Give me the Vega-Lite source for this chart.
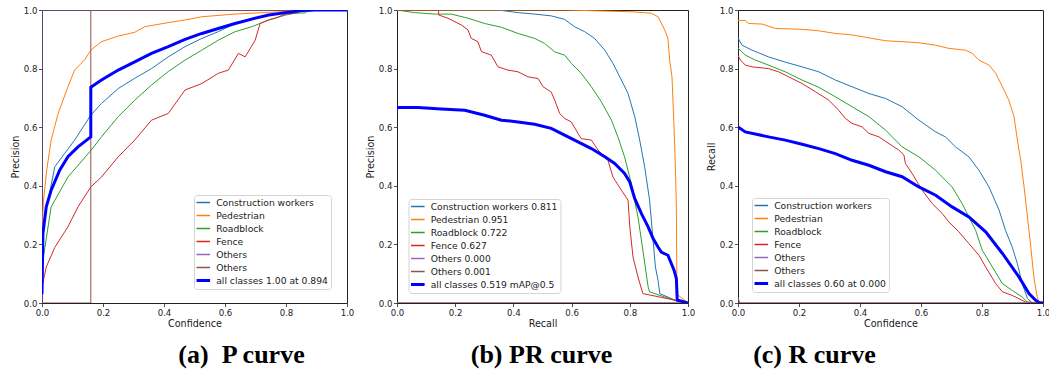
{
  "$schema": "https://vega.github.io/schema/vega-lite/v6.json",
  "padding": {"left": 9, "top": 5, "right": 0, "bottom": 0},
  "background": "white",
  "spacing": 50,
  "bounds": "flush",
  "config": {
    "font": "DejaVu Sans",
    "view": {"stroke": "#222", "strokeWidth": 1},
    "axis": {
      "domain": false, "grid": false, "ticks": true, "tickColor": "#222", "tickSize": 3.5, "tickWidth": 0.8,
      "labelFont": "DejaVu Sans", "labelFontSize": 8.6, "labelColor": "#222", "labelPadding": 1.5,
      "labelFlush": false, "labelOverlap": false,
      "titleFont": "DejaVu Sans", "titleFontSize": 9.6, "titleFontWeight": "normal", "titleColor": "#222"
    },
    "axisX": {"titlePadding": 2},
    "axisY": {"titlePadding": 3},
    "legend": {
      "orient": "none", "title": null, "symbolType": "stroke", "symbolSize": 324, "symbolStrokeWidth": 1.5,
      "labelFont": "DejaVu Sans", "labelFontSize": 9.2, "labelColor": "#222", "labelOffset": 10.5,
      "strokeColor": "#d4d4d4", "fillColor": "white", "cornerRadius": 3, "padding": 2.5,
      "rowPadding": 2, "clipHeight": 10, "labelLimit": 300
    },
    "title": {"font": "Liberation Serif", "fontSize": 26, "fontWeight": "bold", "color": "#000", "orient": "bottom", "anchor": "middle", "baseline": "alphabetic", "offset": 14}
  },
  "datasets": {
    "p": [
      {"c": "Construction workers", "x": 0, "y": 0.2}, {"c": "Construction workers", "x": 0.005, "y": 0.28}, {"c": "Construction workers", "x": 0.02, "y": 0.35}, {"c": "Construction workers", "x": 0.042, "y": 0.465}, {"c": "Construction workers", "x": 0.074, "y": 0.51}, {"c": "Construction workers", "x": 0.107, "y": 0.556}, {"c": "Construction workers", "x": 0.16, "y": 0.641}, {"c": "Construction workers", "x": 0.195, "y": 0.681}, {"c": "Construction workers", "x": 0.25, "y": 0.732}, {"c": "Construction workers", "x": 0.304, "y": 0.767}, {"c": "Construction workers", "x": 0.359, "y": 0.8}, {"c": "Construction workers", "x": 0.414, "y": 0.84}, {"c": "Construction workers", "x": 0.469, "y": 0.875}, {"c": "Construction workers", "x": 0.524, "y": 0.903}, {"c": "Construction workers", "x": 0.578, "y": 0.926}, {"c": "Construction workers", "x": 0.633, "y": 0.954}, {"c": "Construction workers", "x": 0.688, "y": 0.972}, {"c": "Construction workers", "x": 0.743, "y": 0.983}, {"c": "Construction workers", "x": 0.8, "y": 0.991}, {"c": "Construction workers", "x": 0.852, "y": 0.997}, {"c": "Construction workers", "x": 0.88, "y": 1}, {"c": "Construction workers", "x": 1, "y": 1},
      {"c": "Pedestrian", "x": 0, "y": 0.25}, {"c": "Pedestrian", "x": 0.005, "y": 0.35}, {"c": "Pedestrian", "x": 0.015, "y": 0.45}, {"c": "Pedestrian", "x": 0.03, "y": 0.556}, {"c": "Pedestrian", "x": 0.053, "y": 0.647}, {"c": "Pedestrian", "x": 0.085, "y": 0.738}, {"c": "Pedestrian", "x": 0.107, "y": 0.795}, {"c": "Pedestrian", "x": 0.14, "y": 0.83}, {"c": "Pedestrian", "x": 0.16, "y": 0.863}, {"c": "Pedestrian", "x": 0.195, "y": 0.892}, {"c": "Pedestrian", "x": 0.25, "y": 0.911}, {"c": "Pedestrian", "x": 0.304, "y": 0.924}, {"c": "Pedestrian", "x": 0.337, "y": 0.943}, {"c": "Pedestrian", "x": 0.414, "y": 0.957}, {"c": "Pedestrian", "x": 0.469, "y": 0.966}, {"c": "Pedestrian", "x": 0.524, "y": 0.977}, {"c": "Pedestrian", "x": 0.633, "y": 0.986}, {"c": "Pedestrian", "x": 0.743, "y": 0.992}, {"c": "Pedestrian", "x": 0.852, "y": 0.998}, {"c": "Pedestrian", "x": 0.9, "y": 1}, {"c": "Pedestrian", "x": 1, "y": 1},
      {"c": "Roadblock", "x": 0, "y": 0.1}, {"c": "Roadblock", "x": 0.003, "y": 0.146}, {"c": "Roadblock", "x": 0.03, "y": 0.328}, {"c": "Roadblock", "x": 0.085, "y": 0.43}, {"c": "Roadblock", "x": 0.16, "y": 0.52}, {"c": "Roadblock", "x": 0.195, "y": 0.567}, {"c": "Roadblock", "x": 0.25, "y": 0.636}, {"c": "Roadblock", "x": 0.304, "y": 0.692}, {"c": "Roadblock", "x": 0.359, "y": 0.744}, {"c": "Roadblock", "x": 0.414, "y": 0.79}, {"c": "Roadblock", "x": 0.469, "y": 0.829}, {"c": "Roadblock", "x": 0.524, "y": 0.863}, {"c": "Roadblock", "x": 0.578, "y": 0.897}, {"c": "Roadblock", "x": 0.633, "y": 0.926}, {"c": "Roadblock", "x": 0.688, "y": 0.943}, {"c": "Roadblock", "x": 0.743, "y": 0.966}, {"c": "Roadblock", "x": 0.8, "y": 0.983}, {"c": "Roadblock", "x": 0.83, "y": 0.989}, {"c": "Roadblock", "x": 0.863, "y": 0.99}, {"c": "Roadblock", "x": 0.87, "y": 0.995}, {"c": "Roadblock", "x": 0.9, "y": 1}, {"c": "Roadblock", "x": 1, "y": 1},
      {"c": "Fence", "x": 0, "y": 0.055}, {"c": "Fence", "x": 0.014, "y": 0.123}, {"c": "Fence", "x": 0.042, "y": 0.19}, {"c": "Fence", "x": 0.085, "y": 0.26}, {"c": "Fence", "x": 0.118, "y": 0.328}, {"c": "Fence", "x": 0.16, "y": 0.396}, {"c": "Fence", "x": 0.195, "y": 0.43}, {"c": "Fence", "x": 0.25, "y": 0.499}, {"c": "Fence", "x": 0.304, "y": 0.556}, {"c": "Fence", "x": 0.359, "y": 0.624}, {"c": "Fence", "x": 0.414, "y": 0.647}, {"c": "Fence", "x": 0.469, "y": 0.727}, {"c": "Fence", "x": 0.524, "y": 0.749}, {"c": "Fence", "x": 0.578, "y": 0.784}, {"c": "Fence", "x": 0.611, "y": 0.795}, {"c": "Fence", "x": 0.644, "y": 0.852}, {"c": "Fence", "x": 0.666, "y": 0.84}, {"c": "Fence", "x": 0.699, "y": 0.897}, {"c": "Fence", "x": 0.715, "y": 0.954}, {"c": "Fence", "x": 0.743, "y": 0.966}, {"c": "Fence", "x": 0.765, "y": 0.972}, {"c": "Fence", "x": 0.797, "y": 0.986}, {"c": "Fence", "x": 0.83, "y": 0.989}, {"c": "Fence", "x": 0.852, "y": 0.997}, {"c": "Fence", "x": 0.9, "y": 1}, {"c": "Fence", "x": 1, "y": 1},
      {"c": "Others", "x": 0, "y": 0}, {"c": "Others", "x": 0, "y": 1}, {"c": "Others", "x": 1, "y": 1},
      {"c": "Others #2", "x": 0, "y": 0}, {"c": "Others #2", "x": 0.16, "y": 0}, {"c": "Others #2", "x": 0.16, "y": 1}, {"c": "Others #2", "x": 1, "y": 1},
      {"c": "all classes 1.00 at 0.894", "x": 0, "y": 0.03}, {"c": "all classes 1.00 at 0.894", "x": 0.003, "y": 0.237}, {"c": "all classes 1.00 at 0.894", "x": 0.014, "y": 0.328}, {"c": "all classes 1.00 at 0.894", "x": 0.03, "y": 0.385}, {"c": "all classes 1.00 at 0.894", "x": 0.058, "y": 0.453}, {"c": "all classes 1.00 at 0.894", "x": 0.085, "y": 0.499}, {"c": "all classes 1.00 at 0.894", "x": 0.118, "y": 0.533}, {"c": "all classes 1.00 at 0.894", "x": 0.16, "y": 0.567}, {"c": "all classes 1.00 at 0.894", "x": 0.16, "y": 0.736}, {"c": "all classes 1.00 at 0.894", "x": 0.195, "y": 0.761}, {"c": "all classes 1.00 at 0.894", "x": 0.25, "y": 0.795}, {"c": "all classes 1.00 at 0.894", "x": 0.304, "y": 0.823}, {"c": "all classes 1.00 at 0.894", "x": 0.359, "y": 0.852}, {"c": "all classes 1.00 at 0.894", "x": 0.414, "y": 0.875}, {"c": "all classes 1.00 at 0.894", "x": 0.469, "y": 0.9}, {"c": "all classes 1.00 at 0.894", "x": 0.524, "y": 0.92}, {"c": "all classes 1.00 at 0.894", "x": 0.578, "y": 0.937}, {"c": "all classes 1.00 at 0.894", "x": 0.633, "y": 0.954}, {"c": "all classes 1.00 at 0.894", "x": 0.688, "y": 0.969}, {"c": "all classes 1.00 at 0.894", "x": 0.743, "y": 0.983}, {"c": "all classes 1.00 at 0.894", "x": 0.8, "y": 0.991}, {"c": "all classes 1.00 at 0.894", "x": 0.852, "y": 0.998}, {"c": "all classes 1.00 at 0.894", "x": 0.894, "y": 1}, {"c": "all classes 1.00 at 0.894", "x": 1, "y": 1}
    ],
    "pr": [
      {"c": "Construction workers 0.811", "x": 0, "y": 1}, {"c": "Construction workers 0.811", "x": 0.347, "y": 1}, {"c": "Construction workers 0.811", "x": 0.416, "y": 0.991}, {"c": "Construction workers 0.811", "x": 0.473, "y": 0.986}, {"c": "Construction workers 0.811", "x": 0.53, "y": 0.98}, {"c": "Construction workers 0.811", "x": 0.576, "y": 0.968}, {"c": "Construction workers 0.811", "x": 0.61, "y": 0.943}, {"c": "Construction workers 0.811", "x": 0.645, "y": 0.926}, {"c": "Construction workers 0.811", "x": 0.679, "y": 0.903}, {"c": "Construction workers 0.811", "x": 0.714, "y": 0.863}, {"c": "Construction workers 0.811", "x": 0.742, "y": 0.818}, {"c": "Construction workers 0.811", "x": 0.771, "y": 0.761}, {"c": "Construction workers 0.811", "x": 0.794, "y": 0.715}, {"c": "Construction workers 0.811", "x": 0.817, "y": 0.636}, {"c": "Construction workers 0.811", "x": 0.834, "y": 0.556}, {"c": "Construction workers 0.811", "x": 0.851, "y": 0.465}, {"c": "Construction workers 0.811", "x": 0.868, "y": 0.351}, {"c": "Construction workers 0.811", "x": 0.88, "y": 0.214}, {"c": "Construction workers 0.811", "x": 0.888, "y": 0.123}, {"c": "Construction workers 0.811", "x": 0.897, "y": 0.077}, {"c": "Construction workers 0.811", "x": 0.903, "y": 0.032}, {"c": "Construction workers 0.811", "x": 0.96, "y": 0.008}, {"c": "Construction workers 0.811", "x": 1, "y": 0},
      {"c": "Pedestrian 0.951", "x": 0, "y": 1}, {"c": "Pedestrian 0.951", "x": 0.58, "y": 1}, {"c": "Pedestrian 0.951", "x": 0.805, "y": 0.994}, {"c": "Pedestrian 0.951", "x": 0.874, "y": 0.989}, {"c": "Pedestrian 0.951", "x": 0.897, "y": 0.977}, {"c": "Pedestrian 0.951", "x": 0.92, "y": 0.932}, {"c": "Pedestrian 0.951", "x": 0.931, "y": 0.903}, {"c": "Pedestrian 0.951", "x": 0.937, "y": 0.829}, {"c": "Pedestrian 0.951", "x": 0.945, "y": 0.772}, {"c": "Pedestrian 0.951", "x": 0.952, "y": 0.601}, {"c": "Pedestrian 0.951", "x": 0.957, "y": 0.453}, {"c": "Pedestrian 0.951", "x": 0.96, "y": 0.328}, {"c": "Pedestrian 0.951", "x": 0.962, "y": 0.03}, {"c": "Pedestrian 0.951", "x": 1, "y": 0},
      {"c": "Roadblock 0.722", "x": 0, "y": 1}, {"c": "Roadblock 0.722", "x": 0.061, "y": 0.991}, {"c": "Roadblock 0.722", "x": 0.129, "y": 0.986}, {"c": "Roadblock 0.722", "x": 0.187, "y": 0.986}, {"c": "Roadblock 0.722", "x": 0.244, "y": 0.972}, {"c": "Roadblock 0.722", "x": 0.301, "y": 0.954}, {"c": "Roadblock 0.722", "x": 0.359, "y": 0.941}, {"c": "Roadblock 0.722", "x": 0.416, "y": 0.92}, {"c": "Roadblock 0.722", "x": 0.473, "y": 0.903}, {"c": "Roadblock 0.722", "x": 0.507, "y": 0.886}, {"c": "Roadblock 0.722", "x": 0.542, "y": 0.857}, {"c": "Roadblock 0.722", "x": 0.576, "y": 0.846}, {"c": "Roadblock 0.722", "x": 0.599, "y": 0.818}, {"c": "Roadblock 0.722", "x": 0.633, "y": 0.784}, {"c": "Roadblock 0.722", "x": 0.668, "y": 0.738}, {"c": "Roadblock 0.722", "x": 0.702, "y": 0.687}, {"c": "Roadblock 0.722", "x": 0.737, "y": 0.624}, {"c": "Roadblock 0.722", "x": 0.759, "y": 0.567}, {"c": "Roadblock 0.722", "x": 0.782, "y": 0.499}, {"c": "Roadblock 0.722", "x": 0.805, "y": 0.408}, {"c": "Roadblock 0.722", "x": 0.828, "y": 0.294}, {"c": "Roadblock 0.722", "x": 0.845, "y": 0.18}, {"c": "Roadblock 0.722", "x": 0.863, "y": 0.055}, {"c": "Roadblock 0.722", "x": 0.868, "y": 0.038}, {"c": "Roadblock 0.722", "x": 0.954, "y": 0.009}, {"c": "Roadblock 0.722", "x": 1, "y": 0},
      {"c": "Fence 0.627", "x": 0, "y": 1}, {"c": "Fence 0.627", "x": 0.143, "y": 1}, {"c": "Fence 0.627", "x": 0.143, "y": 0.983}, {"c": "Fence 0.627", "x": 0.175, "y": 0.972}, {"c": "Fence 0.627", "x": 0.221, "y": 0.949}, {"c": "Fence 0.627", "x": 0.244, "y": 0.932}, {"c": "Fence 0.627", "x": 0.255, "y": 0.903}, {"c": "Fence 0.627", "x": 0.278, "y": 0.892}, {"c": "Fence 0.627", "x": 0.29, "y": 0.858}, {"c": "Fence 0.627", "x": 0.324, "y": 0.846}, {"c": "Fence 0.627", "x": 0.347, "y": 0.806}, {"c": "Fence 0.627", "x": 0.381, "y": 0.795}, {"c": "Fence 0.627", "x": 0.416, "y": 0.789}, {"c": "Fence 0.627", "x": 0.45, "y": 0.772}, {"c": "Fence 0.627", "x": 0.485, "y": 0.766}, {"c": "Fence 0.627", "x": 0.502, "y": 0.738}, {"c": "Fence 0.627", "x": 0.53, "y": 0.72}, {"c": "Fence 0.627", "x": 0.542, "y": 0.692}, {"c": "Fence 0.627", "x": 0.559, "y": 0.647}, {"c": "Fence 0.627", "x": 0.576, "y": 0.63}, {"c": "Fence 0.627", "x": 0.599, "y": 0.618}, {"c": "Fence 0.627", "x": 0.622, "y": 0.579}, {"c": "Fence 0.627", "x": 0.633, "y": 0.561}, {"c": "Fence 0.627", "x": 0.668, "y": 0.556}, {"c": "Fence 0.627", "x": 0.691, "y": 0.522}, {"c": "Fence 0.627", "x": 0.725, "y": 0.487}, {"c": "Fence 0.627", "x": 0.742, "y": 0.43}, {"c": "Fence 0.627", "x": 0.771, "y": 0.385}, {"c": "Fence 0.627", "x": 0.794, "y": 0.351}, {"c": "Fence 0.627", "x": 0.8, "y": 0.26}, {"c": "Fence 0.627", "x": 0.811, "y": 0.157}, {"c": "Fence 0.627", "x": 0.828, "y": 0.089}, {"c": "Fence 0.627", "x": 0.845, "y": 0.032}, {"c": "Fence 0.627", "x": 0.954, "y": 0.01}, {"c": "Fence 0.627", "x": 1, "y": 0},
      {"c": "Others 0.000", "x": 0, "y": 0}, {"c": "Others 0.000", "x": 1, "y": 0},
      {"c": "Others 0.001", "x": 0, "y": 0}, {"c": "Others 0.001", "x": 1, "y": 0},
      {"c": "all classes 0.519 mAP@0.5", "x": 0, "y": 0.667}, {"c": "all classes 0.519 mAP@0.5", "x": 0.072, "y": 0.667}, {"c": "all classes 0.519 mAP@0.5", "x": 0.152, "y": 0.662}, {"c": "all classes 0.519 mAP@0.5", "x": 0.233, "y": 0.658}, {"c": "all classes 0.519 mAP@0.5", "x": 0.301, "y": 0.641}, {"c": "all classes 0.519 mAP@0.5", "x": 0.359, "y": 0.624}, {"c": "all classes 0.519 mAP@0.5", "x": 0.416, "y": 0.618}, {"c": "all classes 0.519 mAP@0.5", "x": 0.473, "y": 0.61}, {"c": "all classes 0.519 mAP@0.5", "x": 0.53, "y": 0.596}, {"c": "all classes 0.519 mAP@0.5", "x": 0.576, "y": 0.573}, {"c": "all classes 0.519 mAP@0.5", "x": 0.622, "y": 0.55}, {"c": "all classes 0.519 mAP@0.5", "x": 0.668, "y": 0.527}, {"c": "all classes 0.519 mAP@0.5", "x": 0.714, "y": 0.499}, {"c": "all classes 0.519 mAP@0.5", "x": 0.748, "y": 0.476}, {"c": "all classes 0.519 mAP@0.5", "x": 0.782, "y": 0.442}, {"c": "all classes 0.519 mAP@0.5", "x": 0.8, "y": 0.413}, {"c": "all classes 0.519 mAP@0.5", "x": 0.817, "y": 0.356}, {"c": "all classes 0.519 mAP@0.5", "x": 0.84, "y": 0.305}, {"c": "all classes 0.519 mAP@0.5", "x": 0.863, "y": 0.26}, {"c": "all classes 0.519 mAP@0.5", "x": 0.88, "y": 0.22}, {"c": "all classes 0.519 mAP@0.5", "x": 0.897, "y": 0.191}, {"c": "all classes 0.519 mAP@0.5", "x": 0.908, "y": 0.174}, {"c": "all classes 0.519 mAP@0.5", "x": 0.931, "y": 0.163}, {"c": "all classes 0.519 mAP@0.5", "x": 0.943, "y": 0.134}, {"c": "all classes 0.519 mAP@0.5", "x": 0.952, "y": 0.112}, {"c": "all classes 0.519 mAP@0.5", "x": 0.96, "y": 0.083}, {"c": "all classes 0.519 mAP@0.5", "x": 0.963, "y": 0.01}, {"c": "all classes 0.519 mAP@0.5", "x": 1, "y": 0}
    ],
    "r": [
      {"c": "Construction workers", "x": 0, "y": 0.905}, {"c": "Construction workers", "x": 0.013, "y": 0.88}, {"c": "Construction workers", "x": 0.046, "y": 0.863}, {"c": "Construction workers", "x": 0.1, "y": 0.84}, {"c": "Construction workers", "x": 0.155, "y": 0.822}, {"c": "Construction workers", "x": 0.21, "y": 0.806}, {"c": "Construction workers", "x": 0.265, "y": 0.789}, {"c": "Construction workers", "x": 0.319, "y": 0.761}, {"c": "Construction workers", "x": 0.374, "y": 0.738}, {"c": "Construction workers", "x": 0.429, "y": 0.715}, {"c": "Construction workers", "x": 0.484, "y": 0.698}, {"c": "Construction workers", "x": 0.538, "y": 0.67}, {"c": "Construction workers", "x": 0.593, "y": 0.624}, {"c": "Construction workers", "x": 0.648, "y": 0.584}, {"c": "Construction workers", "x": 0.68, "y": 0.567}, {"c": "Construction workers", "x": 0.713, "y": 0.533}, {"c": "Construction workers", "x": 0.757, "y": 0.499}, {"c": "Construction workers", "x": 0.79, "y": 0.453}, {"c": "Construction workers", "x": 0.823, "y": 0.396}, {"c": "Construction workers", "x": 0.856, "y": 0.317}, {"c": "Construction workers", "x": 0.877, "y": 0.248}, {"c": "Construction workers", "x": 0.899, "y": 0.191}, {"c": "Construction workers", "x": 0.916, "y": 0.134}, {"c": "Construction workers", "x": 0.932, "y": 0.066}, {"c": "Construction workers", "x": 0.949, "y": 0.015}, {"c": "Construction workers", "x": 0.965, "y": 0}, {"c": "Construction workers", "x": 1, "y": 0},
      {"c": "Pedestrian", "x": 0, "y": 0.964}, {"c": "Pedestrian", "x": 0.024, "y": 0.964}, {"c": "Pedestrian", "x": 0.035, "y": 0.954}, {"c": "Pedestrian", "x": 0.079, "y": 0.952}, {"c": "Pedestrian", "x": 0.123, "y": 0.937}, {"c": "Pedestrian", "x": 0.21, "y": 0.934}, {"c": "Pedestrian", "x": 0.265, "y": 0.929}, {"c": "Pedestrian", "x": 0.319, "y": 0.92}, {"c": "Pedestrian", "x": 0.374, "y": 0.915}, {"c": "Pedestrian", "x": 0.429, "y": 0.905}, {"c": "Pedestrian", "x": 0.484, "y": 0.895}, {"c": "Pedestrian", "x": 0.538, "y": 0.892}, {"c": "Pedestrian", "x": 0.593, "y": 0.888}, {"c": "Pedestrian", "x": 0.648, "y": 0.88}, {"c": "Pedestrian", "x": 0.691, "y": 0.869}, {"c": "Pedestrian", "x": 0.746, "y": 0.863}, {"c": "Pedestrian", "x": 0.768, "y": 0.852}, {"c": "Pedestrian", "x": 0.79, "y": 0.829}, {"c": "Pedestrian", "x": 0.823, "y": 0.812}, {"c": "Pedestrian", "x": 0.845, "y": 0.784}, {"c": "Pedestrian", "x": 0.867, "y": 0.738}, {"c": "Pedestrian", "x": 0.888, "y": 0.692}, {"c": "Pedestrian", "x": 0.905, "y": 0.636}, {"c": "Pedestrian", "x": 0.916, "y": 0.556}, {"c": "Pedestrian", "x": 0.927, "y": 0.487}, {"c": "Pedestrian", "x": 0.938, "y": 0.396}, {"c": "Pedestrian", "x": 0.949, "y": 0.294}, {"c": "Pedestrian", "x": 0.96, "y": 0.191}, {"c": "Pedestrian", "x": 0.97, "y": 0.089}, {"c": "Pedestrian", "x": 0.981, "y": 0.02}, {"c": "Pedestrian", "x": 0.987, "y": 0.003}, {"c": "Pedestrian", "x": 1, "y": 0},
      {"c": "Roadblock", "x": 0, "y": 0.87}, {"c": "Roadblock", "x": 0.024, "y": 0.846}, {"c": "Roadblock", "x": 0.057, "y": 0.829}, {"c": "Roadblock", "x": 0.1, "y": 0.812}, {"c": "Roadblock", "x": 0.155, "y": 0.789}, {"c": "Roadblock", "x": 0.21, "y": 0.761}, {"c": "Roadblock", "x": 0.265, "y": 0.736}, {"c": "Roadblock", "x": 0.319, "y": 0.704}, {"c": "Roadblock", "x": 0.374, "y": 0.67}, {"c": "Roadblock", "x": 0.429, "y": 0.636}, {"c": "Roadblock", "x": 0.484, "y": 0.59}, {"c": "Roadblock", "x": 0.538, "y": 0.533}, {"c": "Roadblock", "x": 0.593, "y": 0.499}, {"c": "Roadblock", "x": 0.648, "y": 0.453}, {"c": "Roadblock", "x": 0.702, "y": 0.396}, {"c": "Roadblock", "x": 0.735, "y": 0.339}, {"c": "Roadblock", "x": 0.757, "y": 0.294}, {"c": "Roadblock", "x": 0.779, "y": 0.248}, {"c": "Roadblock", "x": 0.801, "y": 0.18}, {"c": "Roadblock", "x": 0.834, "y": 0.123}, {"c": "Roadblock", "x": 0.867, "y": 0.066}, {"c": "Roadblock", "x": 0.899, "y": 0.043}, {"c": "Roadblock", "x": 0.932, "y": 0.02}, {"c": "Roadblock", "x": 0.949, "y": 0.003}, {"c": "Roadblock", "x": 1, "y": 0},
      {"c": "Fence", "x": 0, "y": 0.845}, {"c": "Fence", "x": 0.008, "y": 0.829}, {"c": "Fence", "x": 0.024, "y": 0.812}, {"c": "Fence", "x": 0.046, "y": 0.806}, {"c": "Fence", "x": 0.1, "y": 0.8}, {"c": "Fence", "x": 0.133, "y": 0.789}, {"c": "Fence", "x": 0.166, "y": 0.772}, {"c": "Fence", "x": 0.21, "y": 0.749}, {"c": "Fence", "x": 0.254, "y": 0.721}, {"c": "Fence", "x": 0.298, "y": 0.692}, {"c": "Fence", "x": 0.33, "y": 0.658}, {"c": "Fence", "x": 0.352, "y": 0.63}, {"c": "Fence", "x": 0.374, "y": 0.613}, {"c": "Fence", "x": 0.407, "y": 0.601}, {"c": "Fence", "x": 0.429, "y": 0.579}, {"c": "Fence", "x": 0.462, "y": 0.567}, {"c": "Fence", "x": 0.495, "y": 0.544}, {"c": "Fence", "x": 0.527, "y": 0.522}, {"c": "Fence", "x": 0.544, "y": 0.505}, {"c": "Fence", "x": 0.549, "y": 0.476}, {"c": "Fence", "x": 0.571, "y": 0.442}, {"c": "Fence", "x": 0.604, "y": 0.385}, {"c": "Fence", "x": 0.637, "y": 0.339}, {"c": "Fence", "x": 0.67, "y": 0.305}, {"c": "Fence", "x": 0.691, "y": 0.277}, {"c": "Fence", "x": 0.724, "y": 0.243}, {"c": "Fence", "x": 0.757, "y": 0.203}, {"c": "Fence", "x": 0.79, "y": 0.163}, {"c": "Fence", "x": 0.812, "y": 0.123}, {"c": "Fence", "x": 0.845, "y": 0.066}, {"c": "Fence", "x": 0.867, "y": 0.038}, {"c": "Fence", "x": 0.899, "y": 0.026}, {"c": "Fence", "x": 0.921, "y": 0.015}, {"c": "Fence", "x": 0.943, "y": 0.003}, {"c": "Fence", "x": 1, "y": 0},
      {"c": "Others", "x": 0, "y": 0}, {"c": "Others", "x": 1, "y": 0},
      {"c": "Others #2", "x": 0, "y": 0.02}, {"c": "Others #2", "x": 0.005, "y": 0}, {"c": "Others #2", "x": 1, "y": 0},
      {"c": "all classes 0.60 at 0.000", "x": 0, "y": 0.601}, {"c": "all classes 0.60 at 0.000", "x": 0.024, "y": 0.584}, {"c": "all classes 0.60 at 0.000", "x": 0.1, "y": 0.567}, {"c": "all classes 0.60 at 0.000", "x": 0.155, "y": 0.556}, {"c": "all classes 0.60 at 0.000", "x": 0.21, "y": 0.542}, {"c": "all classes 0.60 at 0.000", "x": 0.265, "y": 0.527}, {"c": "all classes 0.60 at 0.000", "x": 0.319, "y": 0.51}, {"c": "all classes 0.60 at 0.000", "x": 0.374, "y": 0.487}, {"c": "all classes 0.60 at 0.000", "x": 0.429, "y": 0.47}, {"c": "all classes 0.60 at 0.000", "x": 0.484, "y": 0.448}, {"c": "all classes 0.60 at 0.000", "x": 0.538, "y": 0.431}, {"c": "all classes 0.60 at 0.000", "x": 0.593, "y": 0.396}, {"c": "all classes 0.60 at 0.000", "x": 0.648, "y": 0.368}, {"c": "all classes 0.60 at 0.000", "x": 0.702, "y": 0.328}, {"c": "all classes 0.60 at 0.000", "x": 0.757, "y": 0.294}, {"c": "all classes 0.60 at 0.000", "x": 0.812, "y": 0.243}, {"c": "all classes 0.60 at 0.000", "x": 0.867, "y": 0.169}, {"c": "all classes 0.60 at 0.000", "x": 0.921, "y": 0.089}, {"c": "all classes 0.60 at 0.000", "x": 0.954, "y": 0.032}, {"c": "all classes 0.60 at 0.000", "x": 0.976, "y": 0.009}, {"c": "all classes 0.60 at 0.000", "x": 0.987, "y": 0.002}, {"c": "all classes 0.60 at 0.000", "x": 1, "y": 0}
    ]
  },
  "hconcat": [
    {
      "width": 305, "height": 293,
      "title": {"text": "(a)\u00a0 P curve", "dx": 47},
      "data": {"name": "p"},
      "encoding": {
        "x": {"field": "x", "type": "quantitative", "scale": {"domain": [0, 1]}, "axis": {"title": "Confidence", "values": [0, 0.2, 0.4, 0.6, 0.8, 1], "format": ".1f"}},
        "y": {"field": "y", "type": "quantitative", "scale": {"domain": [0, 1]}, "axis": {"title": "Precision", "values": [0, 0.2, 0.4, 0.6, 0.8, 1], "format": ".1f"}},
        "color": {"field": "c", "type": "nominal",
          "scale": {"domain": ["Construction workers", "Pedestrian", "Roadblock", "Fence", "Others", "Others #2", "all classes 1.00 at 0.894"], "range": ["#1f77b4", "#ff7f0e", "#2ca02c", "#d62728", "#9467bd", "#8c564b", "#0000ff"]},
          "legend": {"legendX": 152, "legendY": 185, "labelExpr": "replace(datum.label, ' #2', '')", "encode": {"symbols": {"update": {"strokeWidth": {"signal": "datum.index === 6 ? 3 : 1.5"}}}}}},
        "order": {"value": null}
      },
      "layer": [
        {"transform": [{"filter": "indexof(datum.c, 'all classes') !== 0"}], "mark": {"type": "line", "strokeWidth": 1, "clip": true}},
        {"transform": [{"filter": "indexof(datum.c, 'all classes') === 0"}], "mark": {"type": "line", "strokeWidth": 3, "clip": true}}
      ]
    },
    {
      "width": 291, "height": 293,
      "title": {"text": "(b) PR curve", "dx": -1},
      "data": {"name": "pr"},
      "encoding": {
        "x": {"field": "x", "type": "quantitative", "scale": {"domain": [0, 1]}, "axis": {"title": "Recall", "values": [0, 0.2, 0.4, 0.6, 0.8, 1], "format": ".1f"}},
        "y": {"field": "y", "type": "quantitative", "scale": {"domain": [0, 1]}, "axis": {"title": "Precision", "values": [0, 0.2, 0.4, 0.6, 0.8, 1], "format": ".1f"}},
        "color": {"field": "c", "type": "nominal",
          "scale": {"domain": ["Construction workers 0.811", "Pedestrian 0.951", "Roadblock 0.722", "Fence 0.627", "Others 0.000", "Others 0.001", "all classes 0.519 mAP@0.5"], "range": ["#1f77b4", "#ff7f0e", "#2ca02c", "#d62728", "#9467bd", "#8c564b", "#0000ff"]},
          "legend": {"legendX": 11.5, "legendY": 189, "encode": {"symbols": {"update": {"strokeWidth": {"signal": "datum.index === 6 ? 3 : 1.5"}}}}}},
        "order": {"value": null}
      },
      "layer": [
        {"transform": [{"filter": "indexof(datum.c, 'all classes') !== 0"}], "mark": {"type": "line", "strokeWidth": 1, "clip": true}},
        {"transform": [{"filter": "indexof(datum.c, 'all classes') === 0"}], "mark": {"type": "line", "strokeWidth": 3, "clip": true}}
      ]
    },
    {
      "width": 305, "height": 293,
      "title": {"text": "(c) R curve", "dx": -76},
      "data": {"name": "r"},
      "encoding": {
        "x": {"field": "x", "type": "quantitative", "scale": {"domain": [0, 1]}, "axis": {"title": "Confidence", "values": [0, 0.2, 0.4, 0.6, 0.8, 1], "format": ".1f"}},
        "y": {"field": "y", "type": "quantitative", "scale": {"domain": [0, 1]}, "axis": {"title": "Recall", "values": [0, 0.2, 0.4, 0.6, 0.8, 1], "format": ".1f"}},
        "color": {"field": "c", "type": "nominal",
          "scale": {"domain": ["Construction workers", "Pedestrian", "Roadblock", "Fence", "Others", "Others #2", "all classes 0.60 at 0.000"], "range": ["#1f77b4", "#ff7f0e", "#2ca02c", "#d62728", "#9467bd", "#8c564b", "#0000ff"]},
          "legend": {"legendX": 14, "legendY": 188, "labelExpr": "replace(datum.label, ' #2', '')", "encode": {"symbols": {"update": {"strokeWidth": {"signal": "datum.index === 6 ? 3 : 1.5"}}}}}},
        "order": {"value": null}
      },
      "layer": [
        {"transform": [{"filter": "indexof(datum.c, 'all classes') !== 0"}], "mark": {"type": "line", "strokeWidth": 1, "clip": true}},
        {"transform": [{"filter": "indexof(datum.c, 'all classes') === 0"}], "mark": {"type": "line", "strokeWidth": 3, "clip": true}}
      ]
    }
  ],
  "resolve": {"scale": {"color": "independent"}, "legend": {"color": "independent"}}
}
